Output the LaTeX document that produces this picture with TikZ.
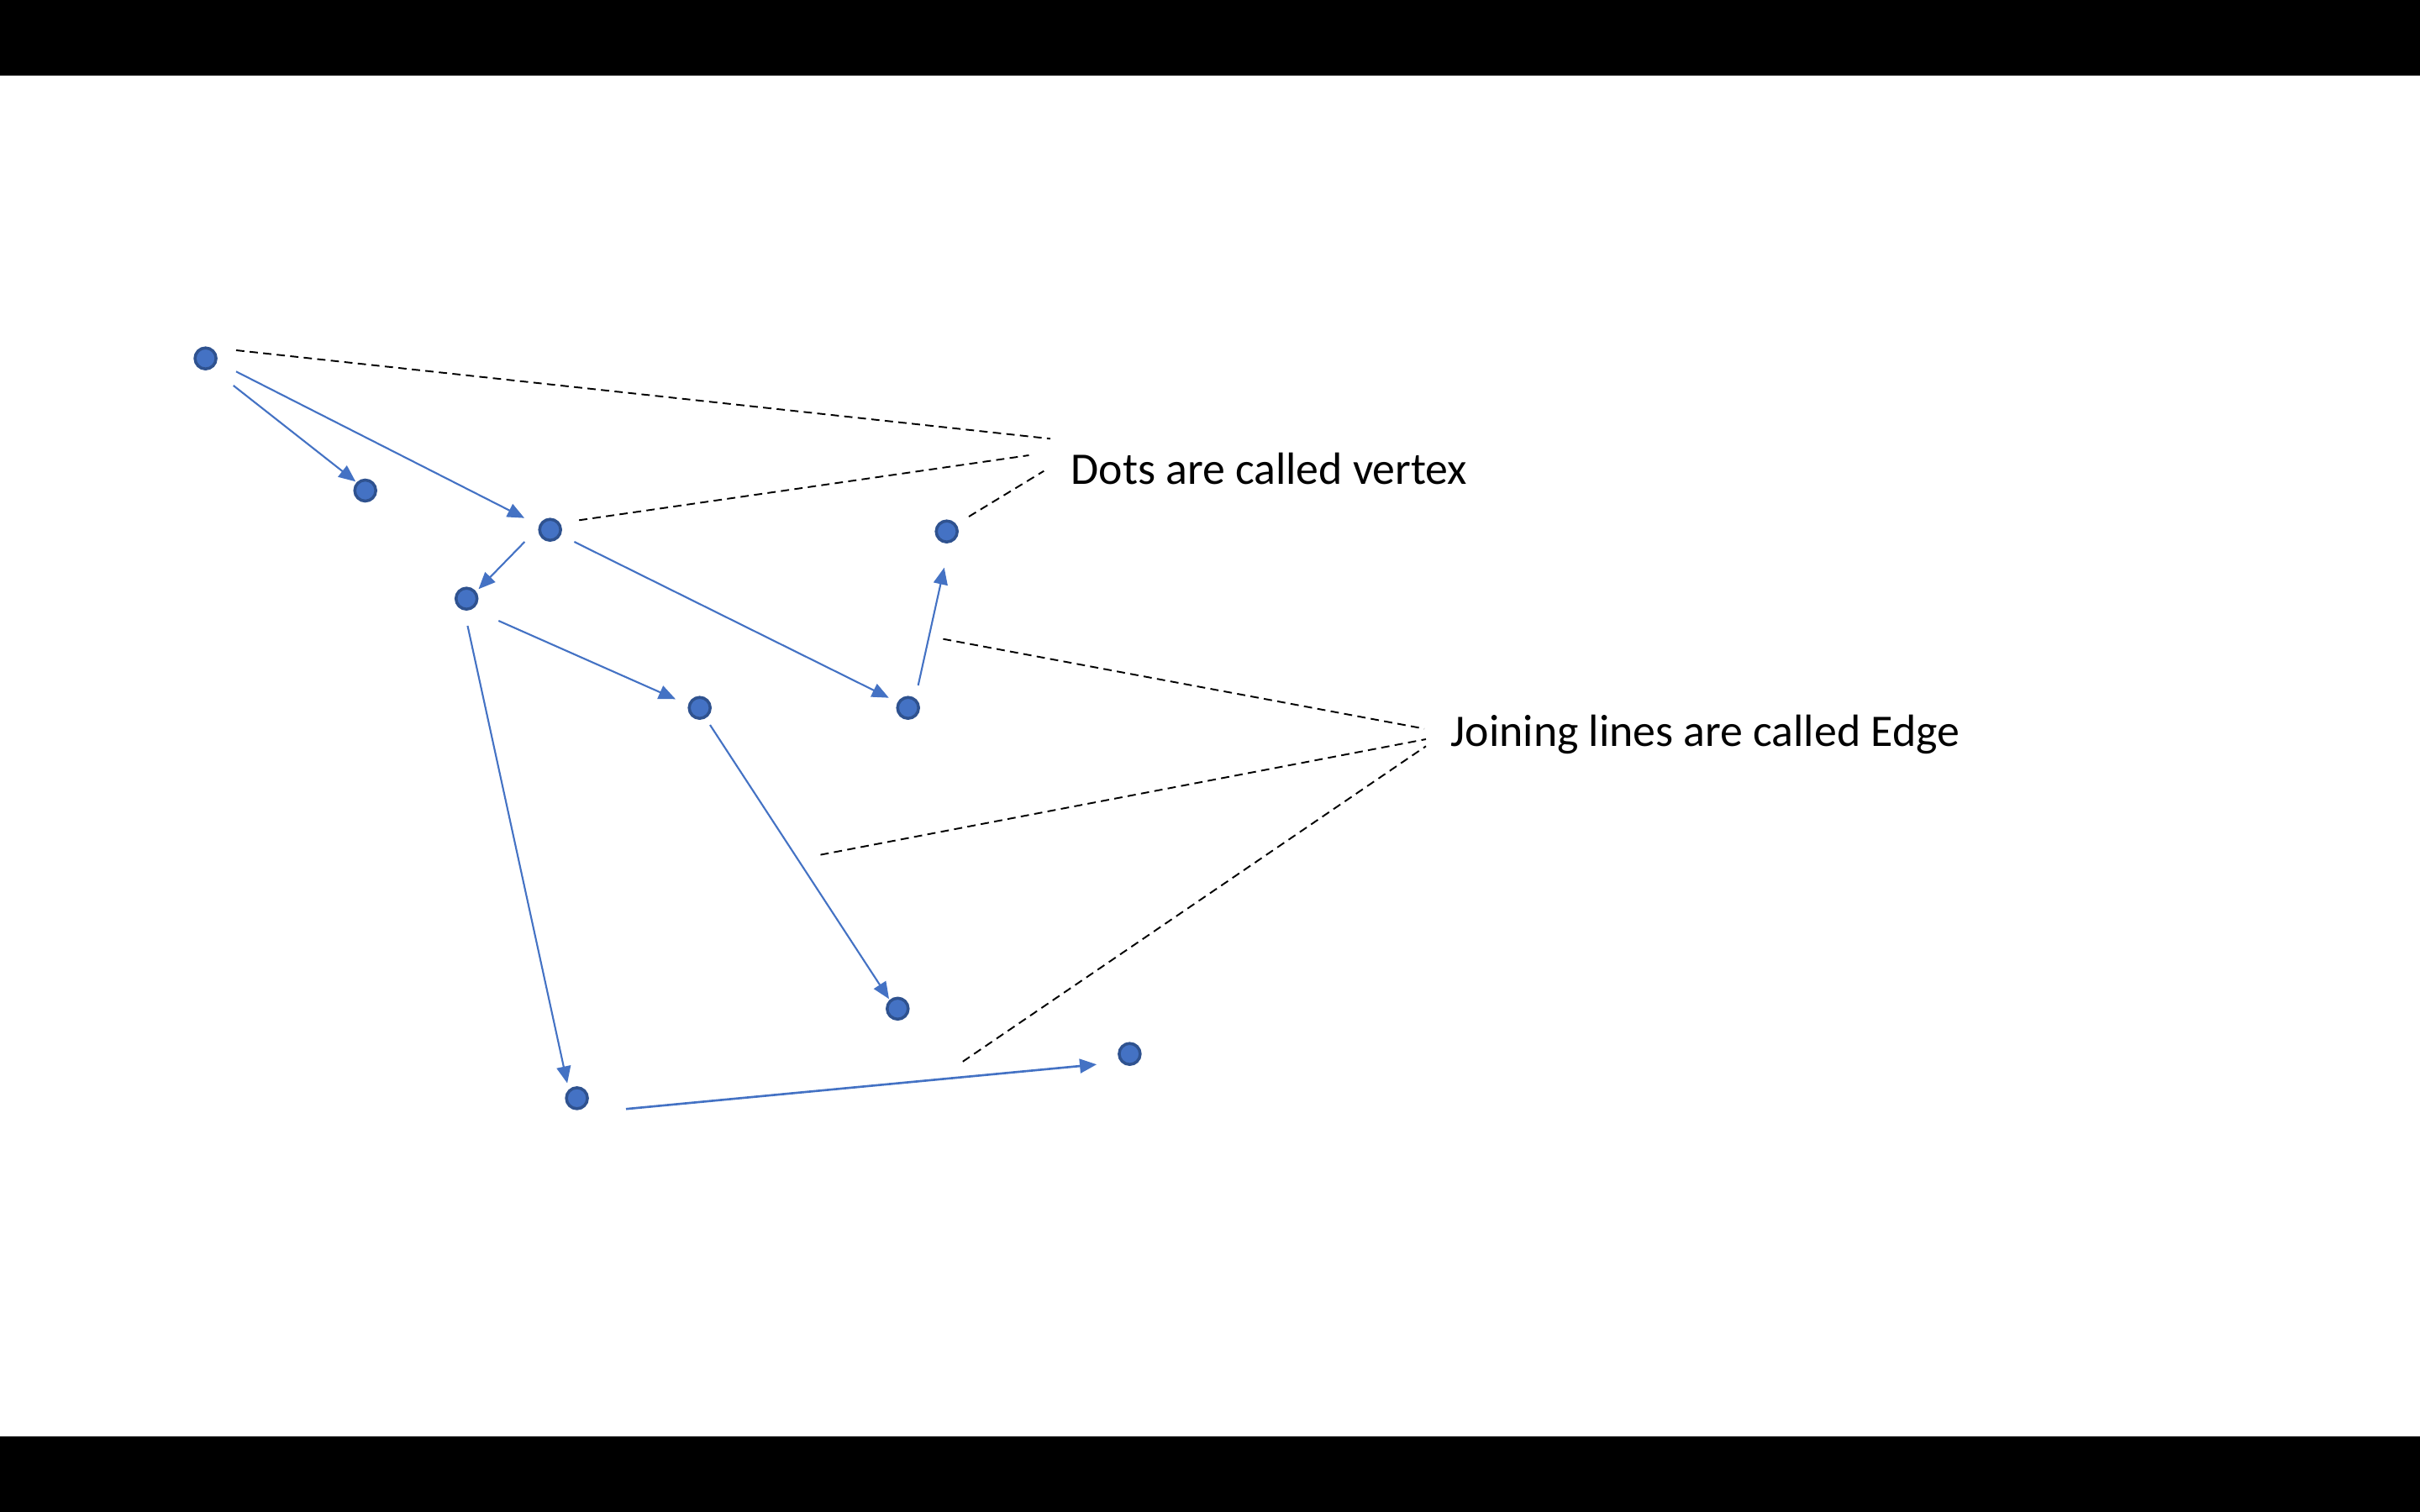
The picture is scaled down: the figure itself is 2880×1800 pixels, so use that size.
\documentclass[tikz,border=0pt]{standalone}
\usepackage{fontspec}
\setmainfont{Carlito}
\usetikzlibrary{arrows.meta}
\definecolor{vfill}{HTML}{4472C4}
\definecolor{vborder}{HTML}{2F528F}
\definecolor{edgeblue}{HTML}{4472C4}
\tikzset{
  vertex/.style={circle, minimum size=0.25cm, inner sep=0pt, fill=vfill, draw=vborder, line width=1pt},
  edgearrow/.style={draw=edgeblue, line width=0.6pt, -{Triangle[length=5.7pt,width=4.8pt]}},
  leader/.style={draw=black, line width=0.55pt, dash pattern=on 2.8pt off 1.8pt},
  labeltext/.style={anchor=base west, inner sep=0pt, font=\fontsize{15.3}{19}\selectfont, text=black},
  bar/.style={fill=black, draw=none}
}
\begin{document}
\begin{tikzpicture}[x=0.01cm, y=-0.01cm]
\useasboundingbox (0,0) rectangle (2880,1800);
\fill[white] (0,0) rectangle (2880,1800);
\fill[bar] (0,0) rectangle (2880,90);
\fill[bar] (0,1710) rectangle (2880,1800);

% vertices
\node[vertex] (A) at (244.6,426.7) {};
\node[vertex] (B) at (434.7,584.0) {};
\node[vertex] (C) at (654.7,630.7) {};
\node[vertex] (D) at (555.2,712.7) {};
\node[vertex] (E) at (832.7,842.7) {};
\node[vertex] (F) at (1080.7,842.7) {};
\node[vertex] (G) at (1126.7,632.7) {};
\node[vertex] (H) at (1068.3,1200.8) {};
\node[vertex] (I) at (686.6,1307.4) {};
\node[vertex] (J) at (1344.4,1254.7) {};

% edges (ends offset from the vertex centres as in the reference)
\draw[edgearrow] ([xshift=0.332cm,yshift=-0.323cm]A.center) -- ([xshift=-0.115cm,yshift=0.107cm]B.center);
\draw[edgearrow] ([xshift=0.364cm,yshift=-0.156cm]A.center) -- ([xshift=-0.306cm,yshift=0.14cm]C.center);
\draw[edgearrow] ([xshift=-0.303cm,yshift=-0.143cm]C.center) -- ([xshift=0.143cm,yshift=0.114cm]D.center);
\draw[edgearrow] ([xshift=0.287cm,yshift=-0.143cm]C.center) -- ([xshift=-0.229cm,yshift=0.12cm]F.center);
\draw[edgearrow] ([xshift=0.381cm,yshift=-0.263cm]D.center) -- ([xshift=-0.287cm,yshift=0.104cm]E.center);
\draw[edgearrow] ([xshift=0.013cm,yshift=-0.323cm]D.center) -- ([xshift=-0.115cm,yshift=0.179cm]I.center);
\draw[edgearrow] ([xshift=0.12cm,yshift=0.268cm]F.center) -- ([xshift=-0.03cm,yshift=-0.43cm]G.center);
\draw[edgearrow] ([xshift=0.123cm,yshift=-0.203cm]E.center) -- ([xshift=-0.103cm,yshift=0.116cm]H.center);
\draw[edgearrow, line width=0.75pt] ([xshift=0.584cm,yshift=-0.128cm]I.center) -- ([xshift=-0.393cm,yshift=-0.125cm]J.center);

% labels
\node[labeltext] (vlabel) at (1274,577) {Dots are called vertex};
\node[labeltext] (elabel) at (1726,888) {Joining lines are called Edge};

% leader line end points
\coordinate (v1s) at (281,417);
\coordinate (v1e) at (1250,522.3);
\coordinate (v2s) at (689.2,619.3);
\coordinate (v2e) at (1224.5,542);
\coordinate (v3s) at (1153,615);
\coordinate (v3e) at (1242.3,560.7);
\coordinate (e1s) at (1122.4,760.7);
\coordinate (e1e) at (1695,867.5);
\coordinate (e2s) at (976.5,1017.6);
\coordinate (e2e) at (1697,880);
\coordinate (e3s) at (1145.8,1263.8);
\coordinate (e3e) at (1697,888.3);

\draw[leader] (v1s) -- (v1e);
\draw[leader] (v2s) -- (v2e);
\draw[leader] (v3s) -- (v3e);
\draw[leader] (e1s) -- (e1e);
\draw[leader] (e2s) -- (e2e);
\draw[leader] (e3s) -- (e3e);
\end{tikzpicture}
\end{document}
